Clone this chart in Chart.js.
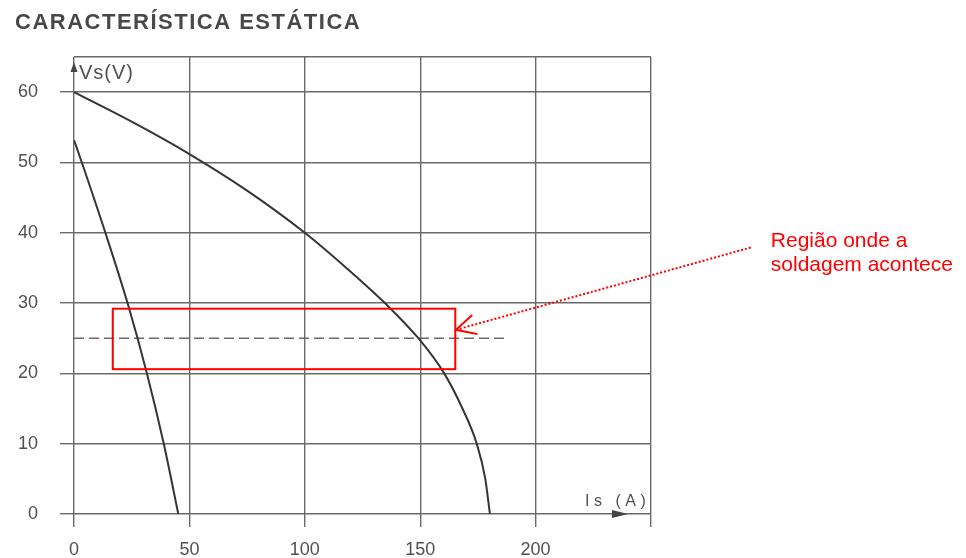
<!DOCTYPE html>
<html>
<head>
<meta charset="utf-8">
<title>Característica estática</title>
<script src="https://cdn.jsdelivr.net/npm/chart.js@4/dist/chart.umd.min.js"></script>
<style>
  html, body { margin: 0; padding: 0; background: #ffffff; }
  #wrap { width: 966px; height: 558px; position: relative; }
</style>
</head>
<body>
<div id="wrap"><canvas id="c"></canvas></div>
<script>
// ---- data ----
const chartTitle = 'CARACTERÍSTICA ESTÁTICA';
const xTickValues = [0, 50, 100, 150, 200, 250];
const yTickValues = [0, 10, 20, 30, 40, 50, 60, 65];
const xAxisTitle = 'Is (A)';
const yAxisTitle = 'Vs(V)';

// lower static curve: current Is (A) vs voltage Vs (V)
const lowCurrent = [0, 3.4, 13.6, 23.2, 31.6, 38.9, 45.2];
const lowVoltage = [53.2, 50, 40, 30, 20, 10, 0];

// upper static curve
const highCurrent = [0, 25, 50, 75, 100, 118, 134.7, 149.2, 160.4, 168.3, 174.5, 178.2, 180.2];
const highVoltage = [60, 55.8, 51.2, 46.0, 40, 35, 30, 25, 20, 15, 10, 5, 0];

// arc working voltage (dashed reference)
const arcCurrent = [0, 187];
const arcVoltage = [25, 25];

// highlighted welding region (current range, voltage range)
const regionCurrent = [16.8, 165.2];
const regionVoltage = [20.6, 29.2];

// note and its pointer, in (current, voltage) units
const noteLines = ['Região onde a', 'soldagem acontece'];
const noteAnchor = [301.9, 38.0];
const pointerTail = [293.2, 37.9];
const pointerTip = [165.5, 26.2];

const toPoints = (xs, ys) => xs.map((v, i) => ({ x: v, y: ys[i] }));

const FONT = "'Liberation Sans', Arial, Helvetica, sans-serif";
const GRID = '#6a6a6a';
const INK = '#505050';

const overlay = {
  id: 'overlay',
  afterDatasetsDraw(chart) {
    const { ctx, chartArea: a, scales: { x, y } } = chart;
    const spacing = v => { if ('letterSpacing' in ctx) ctx.letterSpacing = v; };
    ctx.save();

    // welding region box
    const rx0 = x.getPixelForValue(regionCurrent[0]);
    const rx1 = x.getPixelForValue(regionCurrent[1]);
    const ry0 = y.getPixelForValue(regionVoltage[1]);
    const ry1 = y.getPixelForValue(regionVoltage[0]);
    ctx.strokeStyle = '#ff0000';
    ctx.lineWidth = 2;
    ctx.strokeRect(rx0, ry0, rx1 - rx0, ry1 - ry0);

    // dotted pointer with open head
    const tx = x.getPixelForValue(pointerTail[0]), ty = y.getPixelForValue(pointerTail[1]);
    const hx = x.getPixelForValue(pointerTip[0]), hy = y.getPixelForValue(pointerTip[1]);
    ctx.setLineDash([2, 2]);
    ctx.beginPath();
    ctx.moveTo(tx, ty);
    ctx.lineTo(hx, hy);
    ctx.stroke();
    ctx.setLineDash([]);
    const ang = Math.atan2(ty - hy, tx - hx);
    const len = 22, spread = 0.47;
    ctx.beginPath();
    ctx.moveTo(hx + len * Math.cos(ang - spread), hy + len * Math.sin(ang - spread));
    ctx.lineTo(hx, hy);
    ctx.lineTo(hx + len * Math.cos(ang + spread), hy + len * Math.sin(ang + spread));
    ctx.stroke();

    // note text
    ctx.fillStyle = '#ff0000';
    ctx.font = '21px ' + FONT;
    ctx.textAlign = 'left';
    ctx.textBaseline = 'alphabetic';
    const nx = x.getPixelForValue(noteAnchor[0]), ny = y.getPixelForValue(noteAnchor[1]);
    noteLines.forEach((t, i) => ctx.fillText(t, nx, ny + i * 24));

    // axis arrows
    const x0 = x.getPixelForValue(0), y0 = y.getPixelForValue(0);
    ctx.fillStyle = '#444444';
    ctx.beginPath();
    ctx.moveTo(x0, a.top + 5);
    ctx.lineTo(x0 - 3.5, a.top + 15);
    ctx.lineTo(x0 + 3.5, a.top + 15);
    ctx.closePath();
    ctx.fill();
    ctx.beginPath();
    ctx.moveTo(a.right - 23, y0);
    ctx.lineTo(a.right - 39, y0 - 4);
    ctx.lineTo(a.right - 39, y0 + 4);
    ctx.closePath();
    ctx.fill();

    // axis titles
    ctx.fillStyle = INK;
    ctx.font = '20px ' + FONT;
    spacing('1px');
    ctx.fillText(yAxisTitle, x0 + 5, a.top + 22);
    ctx.font = '16px ' + FONT;
    spacing('4.5px');
    ctx.fillText(xAxisTitle, a.right - 66, y0 - 8);

    // chart heading
    ctx.fillStyle = '#484848';
    ctx.font = 'bold 22px ' + FONT;
    spacing('1.5px');
    ctx.fillText(chartTitle, 15, 29);
    spacing('0px');

    ctx.restore();
  }
};

new Chart(document.getElementById('c'), {
  type: 'scatter',
  data: {
    datasets: [
      {
        label: 'alta',
        data: toPoints(highCurrent, highVoltage),
        showLine: true,
        borderColor: '#353535',
        borderWidth: 2,
        pointRadius: 0,
        cubicInterpolationMode: 'monotone'
      },
      {
        label: 'baixa',
        data: toPoints(lowCurrent, lowVoltage),
        showLine: true,
        borderColor: '#353535',
        borderWidth: 2,
        pointRadius: 0,
        cubicInterpolationMode: 'monotone'
      },
      {
        label: 'arco',
        data: toPoints(arcCurrent, arcVoltage),
        showLine: true,
        borderColor: '#6a6a6a',
        borderWidth: 1.3,
        borderDash: [10, 5],
        pointRadius: 0
      }
    ]
  },
  options: {
    responsive: true,
    maintainAspectRatio: false,
    animation: false,
    layout: { padding: { top: 57, right: 315, bottom: 0, left: 0 } },
    plugins: {
      legend: { display: false },
      tooltip: { enabled: false },
      title: { display: false }
    },
    scales: {
      x: {
        type: 'linear',
        min: 0,
        max: 250,
        afterBuildTicks: s => { s.ticks = xTickValues.map(v => ({ value: v })); },
        afterFit: s => { s.height = 44; },
        ticks: {
          callback: v => (v > 200 ? '' : v),
          color: INK,
          font: { family: FONT, size: 18 },
          padding: 12,
          maxRotation: 0,
          autoSkip: false
        },
        grid: { color: GRID, lineWidth: 1.4, tickLength: 13, tickColor: GRID },
        border: { display: false }
      },
      y: {
        type: 'linear',
        min: 0,
        max: 65,
        afterBuildTicks: s => { s.ticks = yTickValues.map(v => ({ value: v })); },
        afterFit: s => { s.width = 74; },
        ticks: {
          callback: v => (v > 60 ? '' : v),
          color: INK,
          font: { family: FONT, size: 18 },
          padding: 22,
          autoSkip: false
        },
        grid: {
          color: GRID,
          lineWidth: 1.4,
          tickLength: 14,
          tickColor: c => (c.tick && c.tick.value > 60 ? 'rgba(0,0,0,0)' : GRID)
        },
        border: { display: false }
      }
    }
  },
  plugins: [overlay]
});
</script>
</body>
</html>
